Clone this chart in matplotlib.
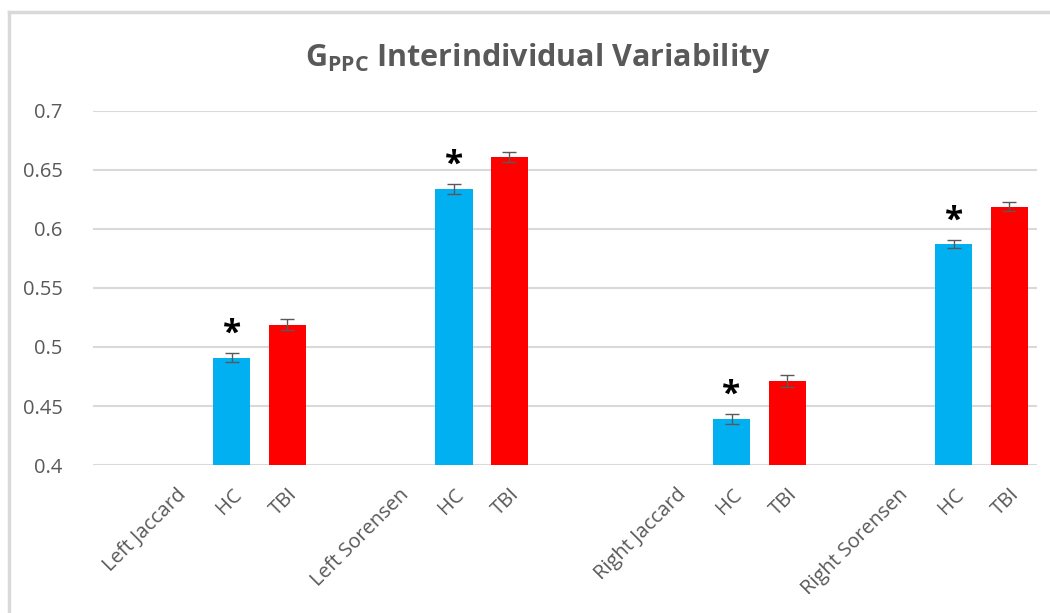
import numpy as np
import matplotlib
matplotlib.use("Agg")
import matplotlib.pyplot as plt
from matplotlib.lines import Line2D

# GPPC interindividual variability (Jaccard / Sorensen indices)
groups = ["Left Jaccard", "Left Sorensen", "Right Jaccard", "Right Sorensen"]
hc = [0.491, 0.634, 0.439, 0.587]
tbi = [0.519, 0.661, 0.471, 0.619]
hc_err = [0.004, 0.004, 0.004, 0.0035]
tbi_err = [0.005, 0.0045, 0.005, 0.004]
sub_labels = ["HC", "TBI"]

plt.rcParams["font.family"] = ["Open Sans", "DejaVu Sans"]
plt.rcParams["mathtext.fontset"] = "custom"
plt.rcParams["mathtext.rm"] = "Open Sans"
plt.rcParams["mathtext.bf"] = "Open Sans:bold"

grey = "#595959"
grid_c = "#D9D9D9"

# slots on the category axis (Excel leaves empty slots between groups)
starts = [0, 4, 9, 13]

fig = plt.figure(figsize=(10.5, 6.13), dpi=100)
ax = fig.add_axes([0.0886, 0.2414, 0.899, 0.5776])

xh = [s + 1 for s in starts]
xt = [s + 2 for s in starts]
w = 0.67
ax.bar(xh, hc, width=w, color="#00B0F0", yerr=hc_err, capsize=5,
       error_kw=dict(ecolor=grey, elinewidth=1, capthick=1), zorder=3)
ax.bar(xt, tbi, width=w, color="#FF0000", yerr=tbi_err, capsize=5,
       error_kw=dict(ecolor=grey, elinewidth=1, capthick=1), zorder=3)

for x, v, e in zip(xh, hc, hc_err):
    ax.text(x, v + e + 0.016, "*", ha="center", va="center",
            fontsize=24, fontweight="bold", color="black", zorder=4)

ticks = []
labels = []
for s, g in zip(starts, groups):
    ticks += [s, s + 1, s + 2]
    labels += [g] + sub_labels
ax.set_xticks(ticks)
ax.set_xticklabels(labels, rotation=45, ha="right", va="top",
                   rotation_mode="anchor", fontsize=14.5, color=grey)

ax.set_xlim(-1.5, 15.5)
ax.set_ylim(0.4, 0.7)
ax.set_yticks(np.arange(0.4, 0.701, 0.05))
ax.set_yticklabels(["0.4", "0.45", "0.5", "0.55", "0.6", "0.65", "0.7"])
ax.tick_params(axis="y", labelsize=14.5, labelcolor=grey, length=0, pad=22)
ax.tick_params(axis="x", length=0, pad=14)
ax.yaxis.grid(True, color=grid_c, linewidth=1.5, zorder=0)
ax.set_axisbelow(True)
for sp in ax.spines.values():
    sp.set_visible(False)

fig.text(0.512, 0.905, r"$\mathbf{G_{PPC}}$ Interindividual Variability",
         ha="center", va="center", fontsize=22, fontweight="bold", color=grey)

# chart frame (left and top edge visible)
fig.add_artist(Line2D([0.0086, 0.0086], [0, 0.981], color=grid_c, lw=2.5,
                      transform=fig.transFigure))
fig.add_artist(Line2D([0.0086, 1.0], [0.981, 0.981], color=grid_c, lw=2.5,
                      transform=fig.transFigure))

fig.savefig("out.png", dpi=100)
